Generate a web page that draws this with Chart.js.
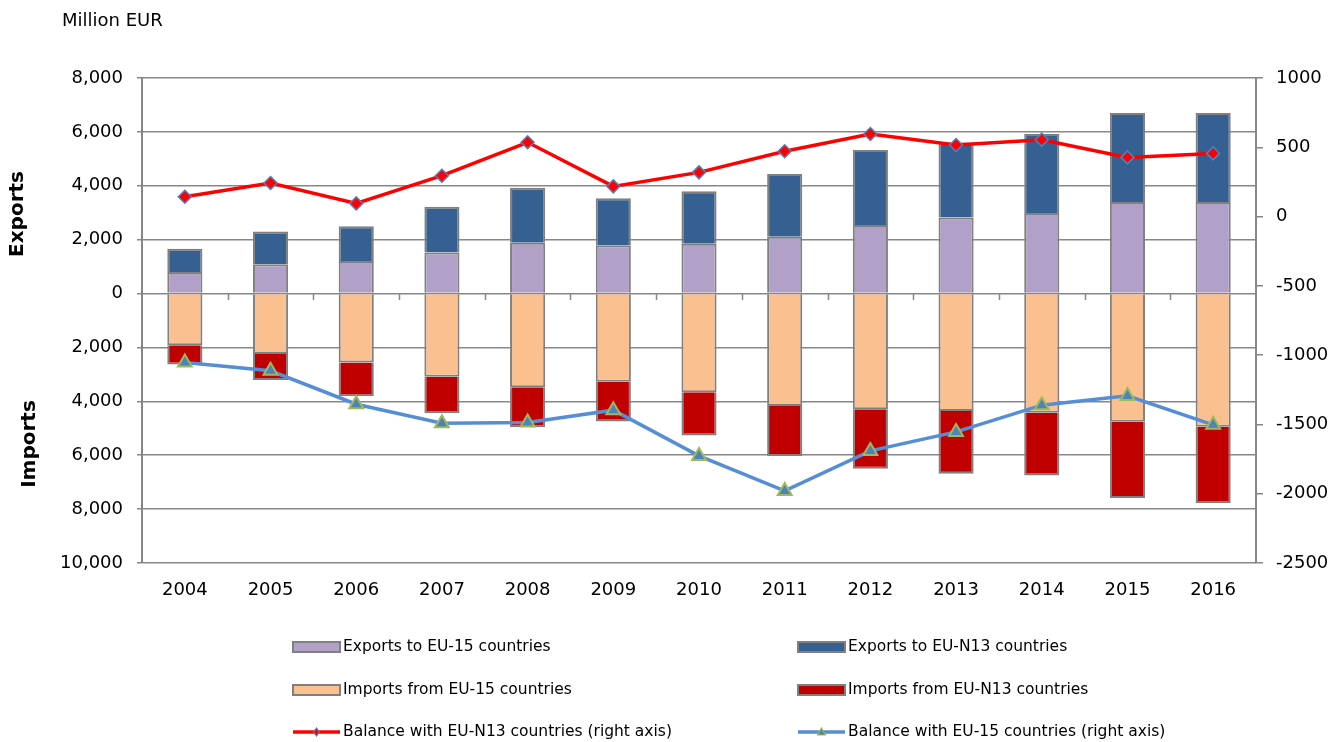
<!DOCTYPE html>
<html>
<head>
<meta charset="utf-8">
<script src="https://cdn.jsdelivr.net/npm/chart.js@4.4.1/dist/chart.umd.min.js"></script>
<style>
  html, body { margin: 0; padding: 0; background: #fff; }
  #wrap { width: 1333px; height: 742px; position: relative; }
</style>
</head>
<body>
<div id="wrap"><canvas id="tradeChart"></canvas></div>
<script>
// --- data (Million EUR) ---
const years = ['2004', '2005', '2006', '2007', '2008', '2009', '2010', '2011', '2012', '2013', '2014', '2015', '2016'];

const exportsEU15 = [800, 1090, 1210, 1520, 1890, 1790, 1850, 2110, 2540, 2820, 2990, 3400, 3400];
const exportsN13 = [860, 1210, 1285, 1700, 2040, 1750, 1950, 2330, 2790, 2790, 2930, 3300, 3300];
// imports are plotted below zero
const importsEU15 = [-1915, -2245, -2555, -3090, -3480, -3270, -3665, -4175, -4295, -4360, -4420, -4755, -4940];
const importsN13 = [-720, -960, -1260, -1350, -1480, -1480, -1600, -1855, -2205, -2325, -2330, -2835, -2835];

// right axis
const balanceN13 = [143, 242, 95, 295, 536, 218, 319, 471, 596, 516, 555, 427, 456];
const balanceEU15 = [-1053, -1113, -1354, -1491, -1486, -1397, -1727, -1980, -1691, -1554, -1361, -1294, -1503];

const leftTicks = { min: -10000, max: 8000, step: 2000 };
const rightTicks = { min: -2500, max: 1000, step: 500 };

// --- look ---
const FONT = 'DejaVu Sans';
const GRID = '#878787';
const BAR_BORDER = '#808080';
const C = {
  exp15: '#B1A0C7',
  expN13: '#366092',
  imp15: '#FAC090',
  impN13: '#C00000',
  balN13: '#FF0000',
  balN13Marker: '#4F81BD',
  bal15: '#558ED5',
  bal15Marker: '#4F81BD',
  bal15MarkerBorder: '#9BBB59'
};

function barSet(label, data, color) {
  return {
    type: 'bar', label: label, data: data,
    backgroundColor: color, borderColor: BAR_BORDER, borderWidth: 2,
    yAxisID: 'y', stack: 'trade', order: 2,
    barPercentage: 0.41, categoryPercentage: 1.0
  };
}

// legend, axis titles and small category ticks on the zero line
const extrasPlugin = {
  id: 'extras',
  afterDraw(chart) {
    const ctx = chart.ctx;
    const area = chart.chartArea;
    const yScale = chart.scales.y;
    ctx.save();

    // tick marks between categories, hanging below 0
    const zeroY = Math.round(yScale.getPixelForValue(0));
    const catW = (area.right - area.left) / years.length;
    ctx.strokeStyle = GRID;
    ctx.lineWidth = 1.5;
    for (let i = 1; i < years.length; i++) {
      const x = Math.round(area.left + i * catW) + 0.5;
      ctx.beginPath();
      ctx.moveTo(x, zeroY);
      ctx.lineTo(x, zeroY + 6);
      ctx.stroke();
    }

    // unit + side titles
    ctx.fillStyle = '#000';
    ctx.textBaseline = 'middle';
    ctx.textAlign = 'left';
    ctx.font = '18px "' + FONT + '"';
    ctx.fillText('Million EUR', 62, 21);

    ctx.font = 'bold 20px "' + FONT + '"';
    ctx.textAlign = 'center';
    ctx.save();
    ctx.translate(18, 214);
    ctx.rotate(-Math.PI / 2);
    ctx.fillText('Exports', 0, 0);
    ctx.restore();
    ctx.save();
    ctx.translate(30, 444);
    ctx.rotate(-Math.PI / 2);
    ctx.fillText('Imports', 0, 0);
    ctx.restore();

    // legend (two columns)
    const cols = [293, 798];
    const rows = [647, 690, 732];
    const items = [
      { kind: 'bar', ds: 0 }, { kind: 'bar', ds: 1 },
      { kind: 'bar', ds: 2 }, { kind: 'bar', ds: 3 },
      { kind: 'line', ds: 4 }, { kind: 'line', ds: 5 }
    ];
    ctx.font = '15.5px "' + FONT + '"';
    ctx.textAlign = 'left';
    items.forEach((it, i) => {
      const x = cols[i % 2];
      const y = rows[Math.floor(i / 2)];
      const ds = chart.data.datasets[it.ds];
      if (it.kind === 'bar') {
        ctx.fillStyle = ds.backgroundColor;
        ctx.fillRect(x, y - 5, 47, 10);
        ctx.strokeStyle = BAR_BORDER;
        ctx.lineWidth = 2;
        ctx.strokeRect(x, y - 5, 47, 10);
      } else {
        ctx.strokeStyle = ds.borderColor;
        ctx.lineWidth = 3.5;
        ctx.beginPath();
        ctx.moveTo(x, y);
        ctx.lineTo(x + 47, y);
        ctx.stroke();
        const cx = x + 23.5;
        ctx.fillStyle = ds.pointBackgroundColor;
        ctx.strokeStyle = ds.pointBorderColor;
        ctx.lineWidth = 1.2;
        ctx.beginPath();
        if (ds.pointStyle === 'rectRot') {
          ctx.moveTo(cx, y - 4); ctx.lineTo(cx + 3, y); ctx.lineTo(cx, y + 4); ctx.lineTo(cx - 3, y);
        } else {
          ctx.moveTo(cx, y - 4); ctx.lineTo(cx + 4, y + 3); ctx.lineTo(cx - 4, y + 3);
        }
        ctx.closePath();
        ctx.fill();
        ctx.stroke();
      }
      ctx.fillStyle = '#000';
      ctx.fillText(ds.label, x + 50, y);
    });
    ctx.restore();
  }
};

const chart = new Chart(document.getElementById('tradeChart'), {
  data: {
    labels: years,
    datasets: [
      barSet('Exports to EU-15 countries', exportsEU15, C.exp15),
      barSet('Exports to EU-N13 countries', exportsN13, C.expN13),
      barSet('Imports from EU-15 countries', importsEU15, C.imp15),
      barSet('Imports from EU-N13 countries', importsN13, C.impN13),
      {
        type: 'line', label: 'Balance with EU-N13 countries (right axis)', data: balanceN13,
        yAxisID: 'y1', order: 0, tension: 0,
        borderColor: C.balN13, borderWidth: 3.5,
        pointStyle: 'rectRot', pointRadius: 6.5,
        pointBackgroundColor: C.balN13, pointBorderColor: C.balN13Marker, pointBorderWidth: 1.5
      },
      {
        type: 'line', label: 'Balance with EU-15 countries (right axis)', data: balanceEU15,
        yAxisID: 'y1', order: 0, tension: 0,
        borderColor: C.bal15, borderWidth: 3.5,
        pointStyle: 'triangle', pointRadius: 8,
        pointBackgroundColor: C.bal15Marker, pointBorderColor: C.bal15MarkerBorder, pointBorderWidth: 2
      }
    ]
  },
  options: {
    responsive: true,
    maintainAspectRatio: false,
    animation: false,
    layout: { padding: { top: 78, right: 0, bottom: 134, left: 0 } },
    plugins: {
      legend: { display: false },
      tooltip: { enabled: false }
    },
    scales: {
      x: {
        stacked: true,
        grid: { display: false, drawTicks: false },
        border: { display: false },
        ticks: { color: '#000', font: { family: FONT, size: 18 }, padding: 17, maxRotation: 0 },
        afterFit(s) { s.height = 45; }
      },
      y: {
        position: 'left',
        stacked: true,
        min: leftTicks.min, max: leftTicks.max,
        grid: { color: GRID, lineWidth: 1.5, tickLength: 5 },
        border: { color: GRID, width: 2 },
        ticks: {
          stepSize: leftTicks.step, color: '#000', padding: 14,
          font: { family: FONT, size: 18 },
          callback: v => Math.abs(v).toLocaleString('en-US')
        },
        afterFit(s) { s.width = 142; }
      },
      y1: {
        position: 'right',
        min: rightTicks.min, max: rightTicks.max,
        grid: { drawOnChartArea: false, color: GRID, lineWidth: 1.5, tickLength: 7 },
        border: { color: GRID, width: 2 },
        ticks: {
          stepSize: rightTicks.step, color: '#000', padding: 13,
          font: { family: FONT, size: 18 },
          callback: v => String(v)
        },
        afterFit(s) { s.width = 77; }
      }
    }
  },
  plugins: [extrasPlugin]
});
</script>
</body>
</html>
